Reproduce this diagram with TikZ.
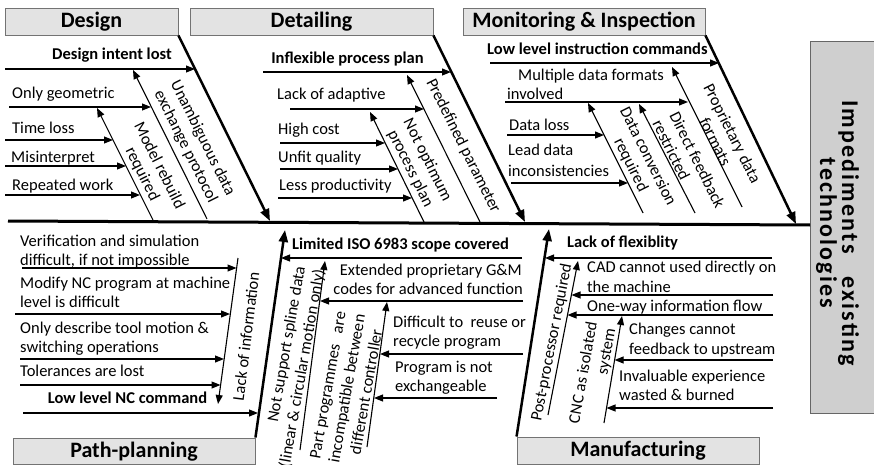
\documentclass[tikz,border=0pt]{standalone}
\usepackage{fontspec}
\setmainfont{Carlito}
\newfontfamily\widebold[LetterSpace=9]{Carlito}
\usetikzlibrary{arrows.meta}
\begin{document}
\begin{tikzpicture}[x=1pt,y=-1pt,
  lbl/.style={inner sep=0pt, font=\fontsize{16.5}{19.5}\selectfont},
  blbl/.style={inner sep=0pt, font=\fontsize{16.5}{19.5}\selectfont\bfseries},
  cat/.style={draw=black!55, fill=black!11, line width=0.9pt, inner sep=0pt,
    text height=15pt, text depth=3pt, font=\fontsize{22}{24}\selectfont\bfseries},
  bone/.style={line width=2.5pt, -{Triangle[length=12pt,width=9pt]}},
  rib/.style={line width=1.1pt, -{Triangle[length=9pt,width=7pt]}},
  spine/.style={line width=3pt},
  slant/.style={inner sep=0pt, font=\fontsize{16.5}{19}\selectfont, align=center, rotate=-63.43},
  rise/.style={inner sep=0pt, font=\fontsize{16.5}{19.5}\selectfont, align=center},
]
\useasboundingbox (0,0) rectangle (874,465);

% ---------- category boxes ----------
\node[cat, minimum width=173pt, minimum height=27pt] (design) at (91.5,21.5) {Design};
\node[cat, minimum width=243pt, minimum height=27pt] (detailing) at (311.5,21.5) {Detailing};
\node[cat, minimum width=242pt, minimum height=27pt] (monitor) at (584,21.5) {Monitoring \& Inspection};
\node[cat, minimum width=242pt, minimum height=26.5pt] (pathplan) at (134,451.25) {Path-planning};
\node[cat, minimum width=242pt, minimum height=27.5pt] (manuf) at (638,450.75) {Manufacturing};

% ---------- effect box ----------
\node[draw=black!60, fill=black!19, line width=0.9pt, minimum width=72pt,
  minimum height=372pt, inner sep=0pt] (impbox) at (846,227) {};
\node[rotate=-90, inner sep=0pt, align=center,
  font=\widebold\bfseries\fontsize{24}{20.5}\selectfont] (imptext) at (837.5,233)
  {Impediments\ \ \ existing\\technologies};

% ---------- spine ----------
\coordinate (spineL) at (8,221);
\coordinate (spineR) at (810,225);
\draw[spine] (spineL) -- (spineR);

% ---------- main bones ----------
\coordinate (designTip) at (270,221);
\coordinate (detailTip) at (525,222);
\coordinate (monitorTip) at (796,224);
\coordinate (pathTip) at (285,230);
\coordinate (manufTip) at (549,229);
\draw[bone] (design.south east) -- (designTip);
\draw[bone] (detailing.south east) -- (detailTip);
\draw[bone] (monitor.south east) -- (monitorTip);
\draw[bone] (pathplan.north east) -- (pathTip);
\draw[bone] (manuf.north west) -- (manufTip);

% ---------- Design ----------
\node[blbl, anchor=base] (dIntent) at (112,60) {Design intent lost};
\node[lbl, anchor=base west] (dGeo) at (12,99) {Only geometric};
\node[lbl, anchor=base west] (dTime) at (12,134) {Time loss};
\node[lbl, anchor=base west] (dMis) at (11,162) {Misinterpret};
\node[lbl, anchor=base west] (dRep) at (12,190) {Repeated work};
\node[slant] (dUnamb) at (194,142.5) {Unambiguous data\\exchange protocol};
\node[slant] (dRebuild) at (150.5,170) {Model rebuild\\required};

\path (5,69) coordinate (dIntentA) (195,69) coordinate (dIntentB)
      (207,219) coordinate (dUnambA) (133,70) coordinate (dUnambB)
      (153,220) coordinate (dRebuildA) (97,108) coordinate (dRebuildB)
      (9,107) coordinate (dGeoA) (151,107) coordinate (dGeoB)
      (5,140) coordinate (dTimeA) (113,140) coordinate (dTimeB)
      (5,166) coordinate (dMisA) (126,166) coordinate (dMisB)
      (5,195) coordinate (dRepA) (140,195) coordinate (dRepB);
\draw[rib] (dIntentA) -- (dIntentB);
\draw[rib] (dUnambA) -- (dUnambB);
\draw[rib] (dRebuildA) -- (dRebuildB);
\draw[rib] (dGeoA) -- (dGeoB);
\draw[rib] (dTimeA) -- (dTimeB);
\draw[rib] (dMisA) -- (dMisB);
\draw[rib] (dRepA) -- (dRepB);

% ---------- Detailing ----------
\node[blbl, anchor=base] (eInflex) at (347.5,64) {Inflexible process plan};
\node[lbl, anchor=base west] (eAdapt) at (277,100) {Lack of adaptive};
\node[lbl, anchor=base west] (eCost) at (278,135) {High cost};
\node[lbl, anchor=base west] (eQual) at (278,162) {Unfit quality};
\node[lbl, anchor=base west] (eProd) at (279,190.5) {Less productivity};
\node[slant] (ePredef) at (463,146) {Predefined parameter};
\node[slant] (eNotOpt) at (418.8,164.5) {Not optimum\\process plan};

\path (263,72) coordinate (eInflexA) (451,72) coordinate (eInflexB)
      (480,222) coordinate (ePredefA) (407,75) coordinate (ePredefB)
      (424,222) coordinate (eNotOptA) (370,112) coordinate (eNotOptB)
      (290,109) coordinate (eAdaptA) (424,109) coordinate (eAdaptB)
      (280,143) coordinate (eCostA) (385,143) coordinate (eCostB)
      (280,169) coordinate (eQualA) (398,169) coordinate (eQualB)
      (278,198) coordinate (eProdA) (412,198) coordinate (eProdB);
\draw[rib] (eInflexA) -- (eInflexB);
\draw[rib] (ePredefA) -- (ePredefB);
\draw[rib] (eNotOptA) -- (eNotOptB);
\draw[rib] (eAdaptA) -- (eAdaptB);
\draw[rib] (eCostA) -- (eCostB);
\draw[rib] (eQualA) -- (eQualB);
\draw[rib] (eProdA) -- (eProdB);

% ---------- Monitoring & Inspection ----------
\node[blbl, anchor=base west] (mLow) at (487,55) {Low level instruction commands};
\node[lbl, anchor=base west] (mMulti) at (518,81) {Multiple data formats};
\node[lbl, anchor=base west] (mInv) at (507,100) {involved};
\node[lbl, anchor=base west] (mLoss) at (509,130.5) {Data loss};
\node[lbl, anchor=base west] (mLead) at (508,156) {Lead data};
\node[lbl, anchor=base west] (mIncon) at (508,176) {inconsistencies};
\node[slant] (mPropr) at (724,137.5) {Proprietary data\\formats};
\node[slant, align=left] (mDirect) at (689,164) {Direct feedback\\restricted};
\node[slant] (mConv) at (639,161) {Data conversion\\required};

\path (490,63) coordinate (mLowA) (719,63) coordinate (mLowB)
      (742,207) coordinate (mProprA) (672,67) coordinate (mProprB)
      (695,213) coordinate (mDirectA) (639,104) coordinate (mDirectB)
      (643,213) coordinate (mConvA) (588,103) coordinate (mConvB)
      (505,102) coordinate (mInvA) (688,102) coordinate (mInvB)
      (507,135) coordinate (mLossA) (604,135) coordinate (mLossB)
      (511,183) coordinate (mLeadA) (628,183) coordinate (mLeadB);
\draw[rib] (mLowA) -- (mLowB);
\draw[rib] (mProprA) -- (mProprB);
\draw[rib] (mDirectA) -- (mDirectB);
\draw[rib] (mConvA) -- (mConvB);
\draw[rib] (mInvA) -- (mInvB);
\draw[rib] (mLossA) -- (mLossB);
\draw[rib] (mLeadA) -- (mLeadB);

% ---------- Path-planning ----------
\node[lbl, anchor=base west] (pVer1) at (20,246) {Verification and simulation};
\node[lbl, anchor=base west] (pVer2) at (20,265) {difficult, if not impossible};
\node[lbl, anchor=base west] (pMod1) at (20,288) {Modify NC program at machine};
\node[lbl, anchor=base west] (pMod2) at (20,307) {level is difficult};
\node[lbl, anchor=base west] (pDes1) at (20,333) {Only describe tool motion \&};
\node[lbl, anchor=base west] (pDes2) at (20,352) {switching operations};
\node[lbl, anchor=base west] (pTol) at (20,376) {Tolerances are lost};
\node[blbl, anchor=base] (pLow) at (127.5,403) {Low level NC command};
\node[rise, rotate=83] (pLack) at (246,336.5) {Lack of information};

\path (23,413) coordinate (pLowA) (258,413) coordinate (pLowB)
      (238,258) coordinate (pLackA) (218,404) coordinate (pLackB)
      (22,268) coordinate (pVerA) (236.5,268) coordinate (pVerB)
      (15,314) coordinate (pModA) (230,314) coordinate (pModB)
      (20,359) coordinate (pDesA) (224,359) coordinate (pDesB)
      (20,385) coordinate (pTolA) (220.5,385) coordinate (pTolB);
\draw[rib] (pLowA) -- (pLowB);
\draw[rib] (pLackA) -- (pLackB);
\draw[rib] (pVerA) -- (pVerB);
\draw[rib] (pModA) -- (pModB);
\draw[rib] (pDesA) -- (pDesB);
\draw[rib] (pTolA) -- (pTolB);

% limited ISO 6983 group
\node[blbl, anchor=base west] (iLim) at (292,249.5) {Limited ISO 6983 scope covered};
\node[lbl, anchor=base east] (iExt1) at (522,275) {Extended proprietary G\&M};
\node[lbl, anchor=base east] (iExt2) at (523,294) {codes for advanced function};
\node[lbl, anchor=base west] (iDif1) at (393,327) {Difficult to\ \ reuse or};
\node[lbl, anchor=base west] (iDif2) at (393,346) {recycle program};
\node[lbl, anchor=base west] (iPrg1) at (395,372) {Program is not};
\node[lbl, anchor=base west] (iPrg2) at (395,391) {exchangeable};
\node[rise, rotate=80, align=right] (iSpline) at (293,367)
  {Not support spline data\\(linear \& circular motion only)};
\node[rise, rotate=80] (iPart) at (347,388.5)
  {Part programmes\ \ \ are\\incompatible between\\different controller};

\path (522,258) coordinate (iLimA) (281,258) coordinate (iLimB)
      (300,450) coordinate (iSplineA) (325,261) coordinate (iSplineB)
      (523,301) coordinate (iExtA) (320,301) coordinate (iExtB)
      (367,447) coordinate (iPartA) (387,302) coordinate (iPartB)
      (523,354) coordinate (iDifA) (380,354) coordinate (iDifB)
      (497,398) coordinate (iPrgA) (374,398) coordinate (iPrgB);
\draw[rib] (iLimA) -- (iLimB);
\draw[rib] (iSplineA) -- (iSplineB);
\draw[rib] (iExtA) -- (iExtB);
\draw[rib] (iPartA) -- (iPartB);
\draw[rib] (iDifA) -- (iDifB);
\draw[rib] (iPrgA) -- (iPrgB);

% ---------- Manufacturing ----------
\node[blbl, anchor=base west] (fLack) at (567,247.5) {Lack of flexiblity};
\node[lbl, anchor=base west] (fCad1) at (587,272.5) {CAD cannot used directly on};
\node[lbl, anchor=base west] (fCad2) at (587,292) {the machine};
\node[lbl, anchor=base west] (fOne) at (587,311) {One-way information flow};
\node[lbl, anchor=base west] (fChg1) at (629,334) {Changes cannot};
\node[lbl, anchor=base west] (fChg2) at (629,354) {feedback to upstream};
\node[lbl, anchor=base west] (fInv1) at (619,381.5) {Invaluable experience};
\node[lbl, anchor=base west] (fInv2) at (619,400.5) {wasted \& burned};
\node[rise, rotate=79] (fPost) at (552,342.5) {Post-processor required};
\node[rise, rotate=80] (fCnc) at (582.5,372.5) {CNC as isolated};
\node[rise, rotate=80] (fSys) at (607.5,351.7) {system};

\path (772,258) coordinate (fLackA) (545,258) coordinate (fLackB)
      (548,415) coordinate (fPostA) (578,261) coordinate (fPostB)
      (773,295) coordinate (fCadA) (571.5,295) coordinate (fCadB)
      (773,315) coordinate (fOneA) (567.5,315) coordinate (fOneB)
      (604,423) coordinate (fCncA) (622,316) coordinate (fCncB)
      (773,360) coordinate (fChgA) (614.6,360) coordinate (fChgB)
      (773,408) coordinate (fInvA) (606.5,408) coordinate (fInvB);
\draw[rib] (fLackA) -- (fLackB);
\draw[rib] (fPostA) -- (fPostB);
\draw[rib] (fCadA) -- (fCadB);
\draw[rib] (fOneA) -- (fOneB);
\draw[rib] (fCncA) -- (fCncB);
\draw[rib] (fChgA) -- (fChgB);
\draw[rib] (fInvA) -- (fInvB);
\end{tikzpicture}
\end{document}
